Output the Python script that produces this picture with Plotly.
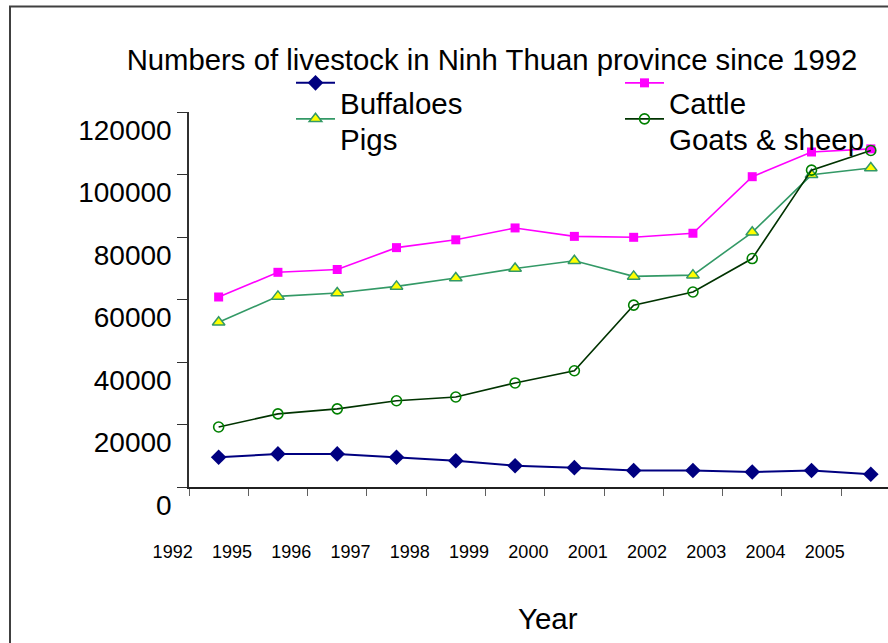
import plotly.graph_objects as go

# Livestock head counts by year
years = ["1992", "1995", "1996", "1997", "1998", "1999",
         "2000", "2001", "2002", "2003", "2004", "2005"]
buffaloes = [9500, 10600, 10600, 9500, 8400, 6800, 6200, 5300, 5300, 4800, 5300, 4100]
cattle = [60800, 68700, 69600, 76600, 79100, 82900, 80200, 79900, 81200, 99300, 107200, 108200]
pigs = [52700, 61000, 62100, 64200, 66900, 69900, 72400, 67400, 67800, 81500, 99900, 102100]
goats_sheep = [19200, 23400, 25000, 27600, 28800, 33300, 37200, 58200, 62400, 73100, 101400, 107700]

W, H = 888, 643
L, R, T, B = 189, 0, 112, 156
PW, PH = W - L - R, H - T - B

FONT = "Arial, Liberation Sans, sans-serif"


def px_x(px):
    return (px - L) / PW


def px_y(py):
    return (H - B - py) / PH


fig = go.Figure()

fig.add_trace(go.Scatter(
    x=years, y=buffaloes, name="<br>Buffaloes", mode="lines+markers",
    line=dict(color="#000080", width=2),
    marker=dict(symbol="diamond", size=12, color="#000080"),
    legend="legend", showlegend=True,
))
fig.add_trace(go.Scatter(
    x=years, y=cattle, name="<br>Cattle", mode="lines+markers",
    line=dict(color="#FF00FF", width=1.6),
    marker=dict(symbol="square", size=9, color="#FF00FF"),
    legend="legend2", showlegend=True,
))
fig.add_trace(go.Scatter(
    x=years, y=pigs, name="<br>Pigs", mode="lines+markers",
    line=dict(color="#339966", width=1.6),
    marker=dict(symbol="triangle-up", size=11, color="#FFFF00",
                line=dict(color="#339966", width=1.5)),
    legend="legend3", showlegend=True,
))
fig.add_trace(go.Scatter(
    x=years, y=goats_sheep, name="<br>Goats & sheep", mode="lines+markers",
    line=dict(color="#003300", width=1.6),
    marker=dict(symbol="circle-open", size=10, color="#008000",
                line=dict(width=1.6)),
    legend="legend4", showlegend=True,
))

legend_common = dict(
    orientation="h", xref="paper", yref="paper",
    xanchor="left", yanchor="top",
    font=dict(family=FONT, size=29.5, color="#000000"),
    bgcolor="rgba(0,0,0,0)", itemwidth=39,
)

fig.update_layout(
    width=W, height=H, autosize=False,
    margin=dict(l=L, r=R, t=T, b=B),
    paper_bgcolor="white", plot_bgcolor="white",
    showlegend=True,
    title=dict(
        text="Numbers of livestock in Ninh Thuan province since 1992",
        font=dict(family=FONT, size=29.3, color="#000000"),
        xref="container", yref="container",
        x=492 / W, y=1 - 60 / H, xanchor="center", yanchor="middle",
    ),
    legend=dict(x=px_x(291), y=px_y(38), **legend_common),
    legend2=dict(x=px_x(620), y=px_y(38), **legend_common),
    legend3=dict(x=px_x(291), y=px_y(74), **legend_common),
    legend4=dict(x=px_x(620), y=px_y(74), **legend_common),
    xaxis=dict(
        type="category", range=[-0.5, 11.29], tickson="boundaries",
        ticks="outside", ticklen=7, tickcolor="#606060",
        showline=True, linecolor="#202020", linewidth=1.5,
        showgrid=False, zeroline=False,
        tickfont=dict(family=FONT, size=18, color="#000000"),
        ticklabelshift=-46, ticklabelstandoff=48,
    ),
    yaxis=dict(
        range=[0, 120000], dtick=20000, tickformat="d",
        ticks="outside", ticklen=10, tickcolor="#303030",
        showline=True, linecolor="#303030", linewidth=1.5,
        showgrid=False, zeroline=False,
        tickfont=dict(family=FONT, size=28, color="#000000"),
        ticklabelshift=18,
    ),
    annotations=[dict(
        text="Year", xref="paper", yref="paper",
        x=px_x(548), y=px_y(618), xanchor="center", yanchor="middle",
        showarrow=False, font=dict(family=FONT, size=29.5, color="#000000"),
    )],
    shapes=[dict(
        type="rect", xref="paper", yref="paper",
        x0=px_x(10), x1=px_x(W + 20), y0=px_y(H + 20), y1=px_y(6.5),
        line=dict(color="#404040", width=2), fillcolor="rgba(0,0,0,0)",
        layer="above",
    )],
)

fig.write_html("out.html")
